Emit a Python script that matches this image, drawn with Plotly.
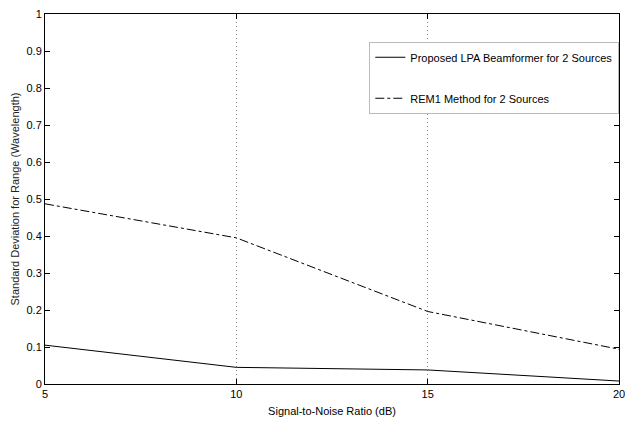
import plotly.graph_objects as go

snr_db = [5, 10, 15, 20]
lpa_std = [0.105, 0.045, 0.038, 0.008]
rem1_std = [0.487, 0.395, 0.196, 0.094]
y_ticks = [0, 0.1, 0.2, 0.3, 0.4, 0.5, 0.6, 0.7, 0.8, 0.9, 1]
y_tick_labels = ["0", "0.1", "0.2", "0.3", "0.4", "0.5", "0.6", "0.7", "0.8", "0.9", "1"]
x_ticks = [5, 10, 15, 20]

FONT = "Liberation Sans Narrow, Arial Narrow, Liberation Sans, Arial, sans-serif"

fig = go.Figure()
fig.add_trace(go.Scatter(
    x=snr_db, y=lpa_std, mode="lines",
    name="Proposed LPA Beamformer for 2 Sources",
    line=dict(color="black", width=1, dash="solid"),
    legendgroup="a",
))
fig.add_trace(go.Scatter(
    x=snr_db, y=rem1_std, mode="lines",
    name="REM1 Method for 2 Sources",
    line=dict(color="black", width=1, dash="dashdot"),
    legendgroup="b",
))

# page body has an 8px margin, so the figure is sized to fit inside the visible window
fig.update_layout(
    template="none",
    width=618, height=421,
    margin=dict(l=37, r=7, t=6, b=45, autoexpand=False),
    paper_bgcolor="white", plot_bgcolor="white",
    font=dict(family=FONT, size=11, color="black"),
    showlegend=True,
    legend=dict(
        x=0.565, y=0.925, xanchor="left", yanchor="top",
        bgcolor="white", bordercolor="#bbbbbb", borderwidth=1,
        font=dict(family=FONT, size=11, color="black"),
        tracegroupgap=22,
    ),
    xaxis=dict(
        range=[5, 20], tickvals=x_ticks, ticktext=[str(v) for v in x_ticks],
        ticks="inside", ticklen=5, tickcolor="black",
        showline=True, linecolor="black", linewidth=1, mirror="ticks",
        showgrid=True, gridcolor="#888888", griddash="1px,3px", gridwidth=1,
        zeroline=False, ticklabeloverflow="allow", automargin=False,
        title=dict(text="Signal-to-Noise Ratio (dB)", font=dict(family=FONT, size=11), standoff=8),
        tickfont=dict(family=FONT, size=11),
    ),
    yaxis=dict(
        range=[0, 1], tickvals=y_ticks, ticktext=y_tick_labels,
        ticks="inside", ticklen=5, tickcolor="black",
        showline=True, linecolor="black", linewidth=1, mirror="ticks",
        showgrid=False, zeroline=False, ticklabeloverflow="allow", automargin=False,
        title=dict(text="Standard Deviation for Range (Wavelength)", font=dict(family=FONT, size=11, color="#222222"), standoff=4),
        tickfont=dict(family=FONT, size=11),
    ),
)

fig.write_html("out.html")
